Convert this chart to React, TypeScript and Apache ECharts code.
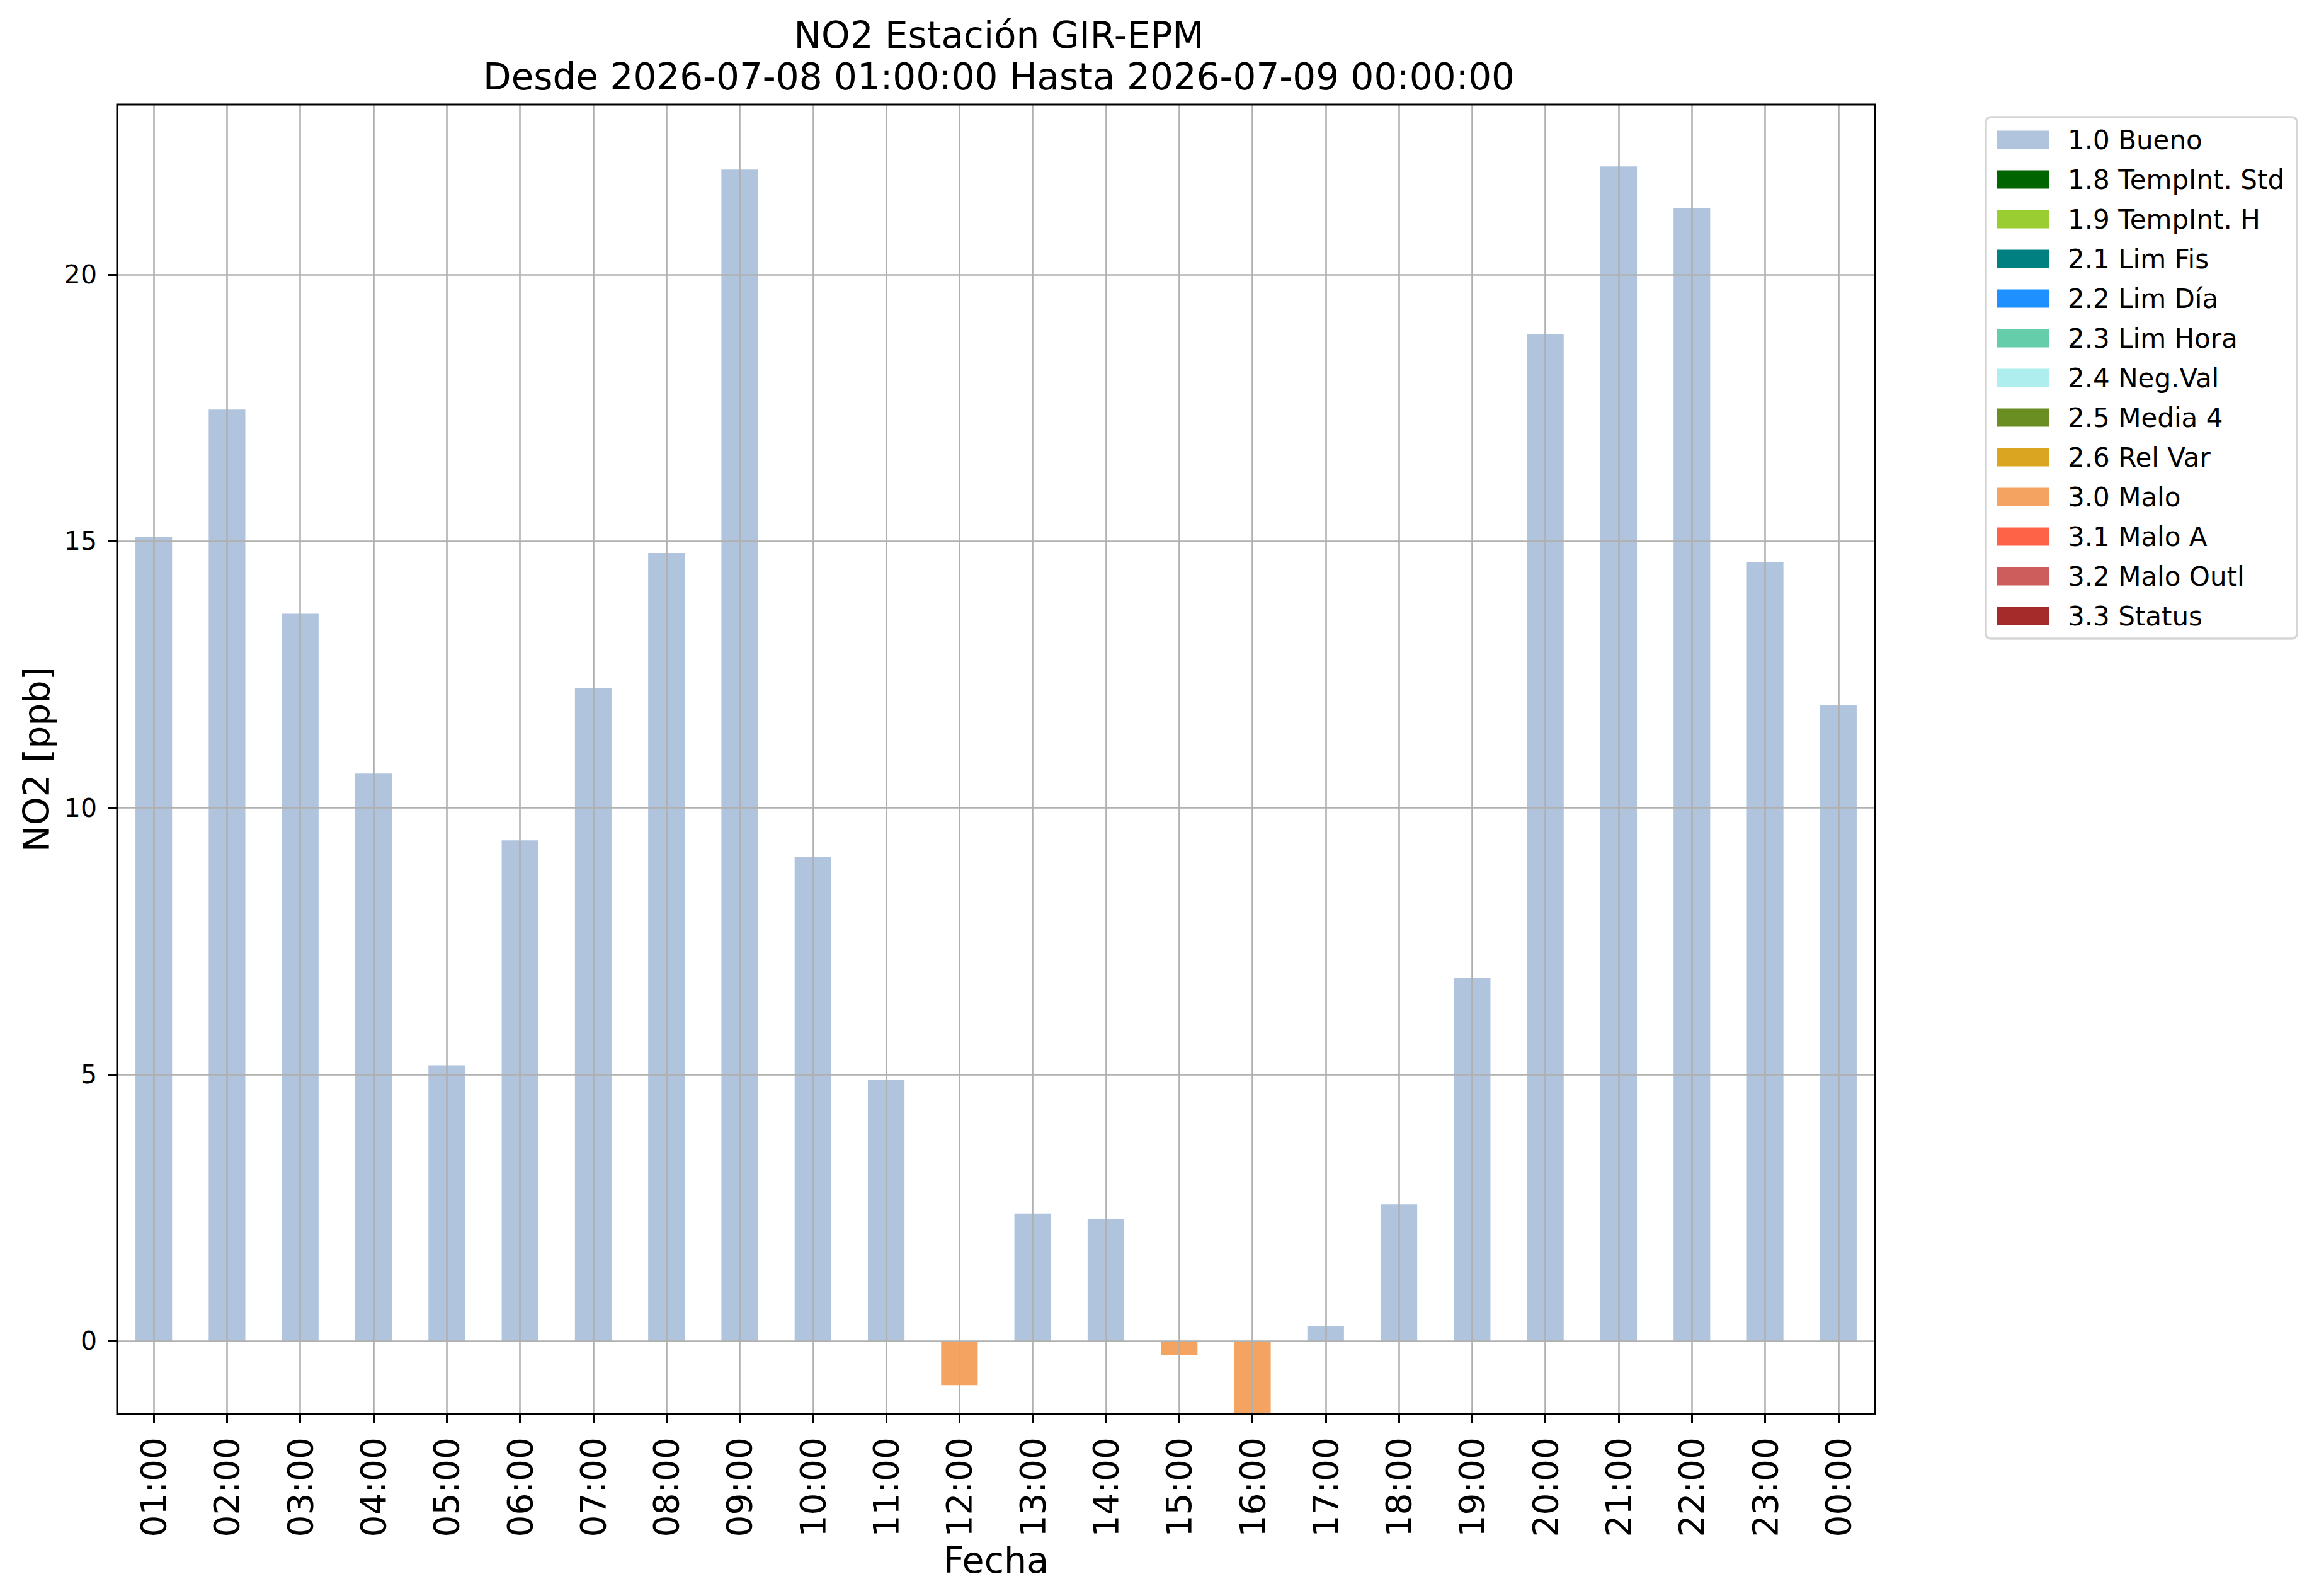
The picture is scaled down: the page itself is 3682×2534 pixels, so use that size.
import React, { useEffect, useRef } from "react";
import * as echarts from "echarts";

const categories = [
  "01:00", "02:00", "03:00", "04:00", "05:00", "06:00", "07:00", "08:00",
  "09:00", "10:00", "11:00", "12:00", "13:00", "14:00", "15:00", "16:00",
  "17:00", "18:00", "19:00", "20:00", "21:00", "22:00", "23:00", "00:00",
];

const buenoValues = [
  15.08, 17.47, 13.64, 10.64, 5.17, 9.39, 12.25, 14.78,
  21.97, 9.08, 4.89, null, 2.39, 2.28, null, null,
  0.28, 2.56, 6.81, 18.89, 22.03, 21.25, 14.61, 11.92,
];

const maloValues = [
  null, null, null, null, null, null, null, null,
  null, null, null, -0.83, null, null, -0.26, -1.37,
  null, null, null, null, null, null, null, null,
];

const flagNames = [
  "1.0 Bueno", "1.8 TempInt. Std", "1.9 TempInt. H", "2.1 Lim Fis",
  "2.2 Lim Día", "2.3 Lim Hora", "2.4 Neg.Val", "2.5 Media 4",
  "2.6 Rel Var", "3.0 Malo", "3.1 Malo A", "3.2 Malo Outl", "3.3 Status",
];

const flagColors = [
  "#B0C4DE", "#006400", "#9ACD32", "#008080",
  "#1E90FF", "#66CDAA", "#AFEEEE", "#6B8E23",
  "#DAA520", "#F4A460", "#FF6347", "#CD5C5C", "#A52A2A",
];

const yTicks = [0, 5, 10, 15, 20];
const yMin = -1.37;
const yMax = 23.19;

const titleText = "NO2 Estación GIR-EPM\nDesde 2026-07-08 01:00:00 Hasta 2026-07-09 00:00:00";

const FONT = "DejaVu Sans";

export default function App() {
  const ref = useRef<HTMLDivElement>(null);

  useEffect(() => {
    document.body.style.margin = "0";
    if (!ref.current) return;
    const chart = echarts.init(ref.current, undefined, { renderer: "svg" });

    const emptyData = categories.map(() => null);
    const seriesData: Record<string, (number | null)[]> = {
      "1.0 Bueno": buenoValues,
      "3.0 Malo": maloValues,
    };

    const series = flagNames.map((name, i) => ({
      name,
      type: "bar",
      stack: "flags",
      barWidth: "50%",
      data: seriesData[name] || emptyData,
      itemStyle: { color: flagColors[i] },
      z: 2,
      clip: true,
    }));

    const gridLeft = 186;
    const gridTop = 166;
    const gridRight = 3682 - 2977;
    const gridBottom = 2534 - 2245;

    chart.setOption({
      animation: false,
      backgroundColor: "#ffffff",
      textStyle: { fontFamily: FONT },
      title: {
        text: titleText,
        left: 1581,
        top: 18,
        textAlign: "center",
        textStyle: {
          fontFamily: FONT,
          fontWeight: "normal",
          fontSize: 58,
          lineHeight: 66,
          color: "#000",
        },
      },
      legend: {
        orient: "vertical",
        left: 3153,
        top: 186,
        data: flagNames,
        icon: "rect",
        itemWidth: 83,
        itemHeight: 29,
        itemGap: 21,
        selectedMode: false,
        padding: [15, 20, 15, 18],
        borderColor: "#d6d6d6",
        borderWidth: 3.5,
        borderRadius: 8,
        backgroundColor: "#ffffff",
        textStyle: {
          fontFamily: FONT,
          fontSize: 42,
          lineHeight: 42,
          color: "#000",
          padding: [0, 0, 0, 24],
        },
      },
      grid: {
        show: true,
        z: 7,
        left: gridLeft,
        top: gridTop,
        right: gridRight,
        bottom: gridBottom,
        backgroundColor: "transparent",
        borderColor: "#000",
        borderWidth: 3,
        containLabel: false,
      },
      xAxis: {
        type: "category",
        data: categories,
        boundaryGap: true,
        z: 5,
        name: "Fecha",
        nameLocation: "middle",
        nameGap: 190,
        nameTextStyle: { fontFamily: FONT, fontSize: 57, color: "#000", verticalAlign: "top" },
        axisLine: { show: false, onZero: false },
        axisTick: {
          show: true,
          alignWithLabel: true,
          length: 15,
          lineStyle: { color: "#000", width: 3 },
        },
        axisLabel: {
          interval: 0,
          rotate: 90,
          margin: 37,
          fontFamily: FONT,
          fontSize: 55,
          color: "#000",
        },
        splitLine: {
          show: true,
          alignWithLabel: true,
          interval: 0,
          lineStyle: { color: "#b0b0b0", width: 2.6 },
        },
      },
      yAxis: {
        type: "value",
        min: yMin,
        max: yMax,
        z: 5,
        name: "NO2 [ppb]",
        nameLocation: "middle",
        nameGap: 100,
        nameRotate: 90,
        nameTextStyle: { fontFamily: FONT, fontSize: 57, color: "#000" },
        axisLine: { show: false, onZero: false },
        axisTick: {
          show: true,
          length: 15,
          customValues: yTicks,
          lineStyle: { color: "#000", width: 3 },
        },
        axisLabel: {
          margin: 32,
          fontFamily: FONT,
          fontSize: 41,
          color: "#000",
          customValues: yTicks,
          formatter: (v: number) => String(Math.round(v)),
        },
        splitLine: {
          show: true,
          lineStyle: { color: "#b0b0b0", width: 2.6 },
        },
      },
      series,
    });

    return () => {
      chart.dispose();
    };
  }, []);

  return <div ref={ref} style={{ width: 3682, height: 2534 }} />;
}
